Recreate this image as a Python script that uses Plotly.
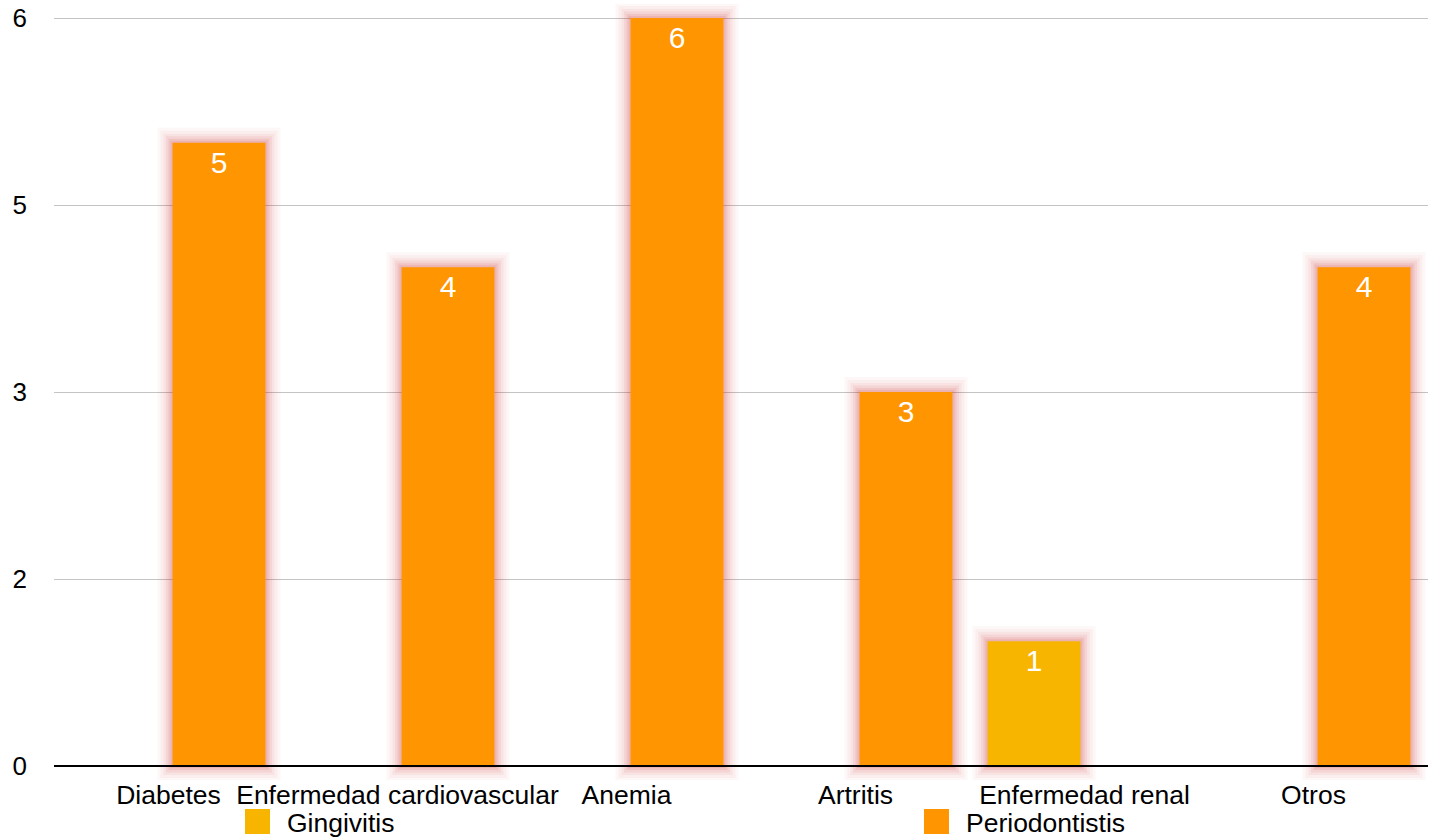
import plotly.graph_objects as go

# Categories and series values
categories = ["Diabetes", "Enfermedad cardiovascular", "Anemia", "Artritis",
              "Enfermedad renal", "Otros"]
series_names = ["Gingivitis", "Periodontistis"]
gingivitis = [None, None, None, None, 1, None]
periodontistis = [5, 4, 6, 3, None, 4]

# Value axis ticks
y_tickvals = [0, 1.5, 3, 4.5, 6]
y_ticktext = ["0", "2", "3", "5", "6"]

colors = ["#F7B500", "#FF9500"]
FONT = "Liberation Sans, Arial, sans-serif"

# Plot frame in pixels; a little room is left above 6 and below 0 so the
# halo around the bars is not cut off
W, H = 1438, 838
plot_l, plot_r = 54, 1428
y6_px, y0_px = 18, 766
pad_top, pad_bot = 14, 14
unit_px = (y0_px - y6_px) / 6
y_lo = -pad_bot / unit_px
y_hi = 6 + pad_top / unit_px
plot_t, plot_b = y6_px - pad_top, y0_px + pad_bot

fig = go.Figure()

series = [gingivitis, periodontistis]

# Soft reddish halo behind each bar, built from wide translucent outlines
glow_layers = [(30, 0.035), (24, 0.045), (18, 0.06), (13, 0.075),
               (8, 0.09), (4, 0.10)]
for idx, vals in enumerate(series):
    for width, alpha in glow_layers:
        fig.add_trace(go.Bar(
            x=categories, y=vals, offsetgroup=str(idx),
            marker=dict(color="rgba(0,0,0,0)",
                        line=dict(color=f"rgba(200,40,35,{alpha})", width=width)),
            showlegend=False, hoverinfo="skip",
        ))

for idx, vals in enumerate(series):
    fig.add_trace(go.Bar(
        x=categories, y=vals, name=series_names[idx], offsetgroup=str(idx),
        marker=dict(color=colors[idx], line=dict(width=0)),
        text=[("" if v is None else str(v)) for v in vals],
        textposition="inside", insidetextanchor="end",
        textfont=dict(color="white", size=30, family=FONT),
        showlegend=False,
    ))

# Baseline drawn over the bars
fig.add_shape(type="line", xref="paper", yref="y", x0=0, x1=1, y0=0, y1=0,
              line=dict(color="black", width=2), layer="above")

# Legend swatches and labels
legend_px = [245, 924]
pw, ph = plot_r - plot_l, plot_b - plot_t
def px_x(p):
    return (p - plot_l) / pw
def px_y(p):
    return (plot_b - p) / ph

for i, name in enumerate(series_names):
    x0 = legend_px[i]
    fig.add_shape(type="rect", xref="paper", yref="paper",
                  x0=px_x(x0), x1=px_x(x0 + 25), y0=px_y(834), y1=px_y(809),
                  fillcolor=colors[i], line=dict(width=0))
    fig.add_annotation(xref="paper", yref="paper", x=px_x(x0 + 40), y=px_y(823),
                       text=name, showarrow=False, xanchor="left", yanchor="middle",
                       font=dict(size=26.5, color="black", family=FONT))

fig.update_layout(
    width=W, height=H,
    margin=dict(l=plot_l, r=W - plot_r, t=plot_t, b=H - plot_b),
    paper_bgcolor="white", plot_bgcolor="white",
    barmode="group", bargap=0.118, bargroupgap=0.08,
    font=dict(family=FONT, size=25, color="black"),
    showlegend=False,
    xaxis=dict(
        categoryorder="array", categoryarray=categories,
        showgrid=False, showline=False, zeroline=False,
        ticks="", tickfont=dict(size=26.5, color="black"),
        ticklabelstandoff=-4, range=[-0.5, 5.5], automargin=False,
    ),
    yaxis=dict(
        range=[y_lo, y_hi], tickvals=y_tickvals, ticktext=y_ticktext,
        showgrid=True, gridcolor="#C4C4C4", gridwidth=1,
        zeroline=False, showline=False, ticks="",
        tickfont=dict(size=26, color="black"), ticklabelstandoff=26,
        automargin=False,
    ),
)

fig.write_html("out.html")
